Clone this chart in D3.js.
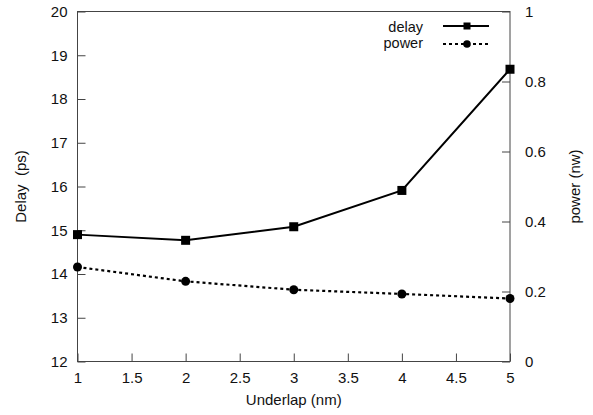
<!DOCTYPE html>
<html>
<head>
<meta charset="utf-8">
<script src="https://cdn.jsdelivr.net/npm/d3@7"></script>
<style>
  html, body { margin: 0; padding: 0; background: #fff; }
  svg { display: block; }
  text { font-family: "Liberation Sans", Arial, sans-serif; fill: #111; }
</style>
</head>
<body>
<svg id="chart" width="593" height="415"></svg>
<script>
// Underlap sweep: delay (left axis) and power (right axis)
const underlap = [1, 2, 3, 4, 5];
const delay = [14.90, 14.77, 15.08, 15.91, 18.68];
const power = [0.270, 0.229, 0.205, 0.193, 0.180];

const xTicks = [1, 1.5, 2, 2.5, 3, 3.5, 4, 4.5, 5];
const delayTicks = [12, 13, 14, 15, 16, 17, 18, 19, 20];
const powerTicks = [0, 0.2, 0.4, 0.6, 0.8, 1];

const margin = { left: 77.5, top: 11.5, right: 510, bottom: 361.5 };
const fontSize = 15;
const svg = d3.select("#chart");

const x = d3.scaleLinear().domain([1, 5]).range([margin.left, margin.right]);
const yL = d3.scaleLinear().domain([12, 20]).range([margin.bottom, margin.top]);
const yR = d3.scaleLinear().domain([0, 1]).range([margin.bottom, margin.top]);

const frameColor = "#444";
const tickLen = 8;

// plot frame
svg.append("rect")
  .attr("x", margin.left).attr("y", margin.top)
  .attr("width", margin.right - margin.left)
  .attr("height", margin.bottom - margin.top)
  .attr("fill", "none").attr("stroke", frameColor).attr("stroke-width", 1);

function styleAxis(g) {
  g.select(".domain").remove();
  g.selectAll(".tick line").attr("stroke", frameColor);
  g.selectAll(".tick text").attr("font-size", fontSize).attr("fill", "#111")
    .attr("font-family", "Liberation Sans, Arial, sans-serif");
}

// bottom axis, ticks pointing inward
svg.append("g")
  .attr("transform", `translate(0,${margin.bottom})`)
  .call(d3.axisBottom(x).tickValues(xTicks).tickSizeInner(-tickLen).tickSizeOuter(0)
    .tickPadding(11).tickFormat(d3.format("")))
  .call(styleAxis);

// left axis (delay)
svg.append("g")
  .attr("transform", `translate(${margin.left},0)`)
  .call(d3.axisLeft(yL).tickValues(delayTicks).tickSizeInner(-tickLen).tickSizeOuter(0)
    .tickPadding(10).tickFormat(d3.format("d")))
  .call(styleAxis);

// right axis (power)
svg.append("g")
  .attr("transform", `translate(${margin.right},0)`)
  .call(d3.axisRight(yR).tickValues(powerTicks).tickSizeInner(-tickLen).tickSizeOuter(0)
    .tickPadding(15).tickFormat(d => d === 0 || d === 1 ? String(d) : d3.format(".1f")(d)))
  .call(styleAxis);

// axis titles
svg.append("text")
  .attr("transform", `translate(26,${(margin.top + margin.bottom) / 2}) rotate(-90)`)
  .attr("text-anchor", "middle").attr("font-size", fontSize)
  .attr("xml:space", "preserve")
  .text("Delay  (ps)");

svg.append("text")
  .attr("transform", `translate(580,${(margin.top + margin.bottom) / 2}) rotate(-90)`)
  .attr("text-anchor", "middle").attr("font-size", fontSize)
  .text("power (nw)");

svg.append("text")
  .attr("x", (margin.left + margin.right) / 2).attr("y", 405)
  .attr("text-anchor", "middle").attr("font-size", fontSize)
  .text("Underlap (nm)");

// series
const delayLine = d3.line().x((d, i) => x(underlap[i])).y(d => yL(d));
const powerLine = d3.line().x((d, i) => x(underlap[i])).y(d => yR(d));

svg.append("path").datum(delay)
  .attr("d", delayLine).attr("fill", "none")
  .attr("stroke", "#000").attr("stroke-width", 2);

svg.append("path").datum(power)
  .attr("d", powerLine).attr("fill", "none")
  .attr("stroke", "#000").attr("stroke-width", 2.2)
  .attr("stroke-dasharray", "3,3");

const sq = 9;
svg.selectAll(".delay-pt").data(delay).enter().append("rect")
  .attr("x", (d, i) => x(underlap[i]) - sq / 2)
  .attr("y", d => yL(d) - sq / 2)
  .attr("width", sq).attr("height", sq).attr("fill", "#000");

svg.selectAll(".power-pt").data(power).enter().append("circle")
  .attr("cx", (d, i) => x(underlap[i]))
  .attr("cy", d => yR(d))
  .attr("r", 4.5).attr("fill", "#000");

// legend
const legend = svg.append("g");
const legendItems = [
  { label: "delay", y: 26, textY: 32, dash: null, shape: "square" },
  { label: "power", y: 44, textY: 47.5, dash: "3,3", shape: "circle" }
];
const legSq = 7;
legendItems.forEach(item => {
  legend.append("text")
    .attr("x", 423).attr("y", item.textY)
    .attr("text-anchor", "end").attr("font-size", 14.5)
    .text(item.label);
  legend.append("line")
    .attr("x1", 443).attr("x2", 489)
    .attr("y1", item.y).attr("y2", item.y)
    .attr("stroke", "#000").attr("stroke-width", 2)
    .attr("stroke-dasharray", item.dash);
  if (item.shape === "square") {
    legend.append("rect")
      .attr("x", 467 - legSq / 2).attr("y", item.y - legSq / 2)
      .attr("width", legSq).attr("height", legSq).attr("fill", "#000");
  } else {
    legend.append("circle")
      .attr("cx", 467).attr("cy", item.y).attr("r", 3.8).attr("fill", "#000");
  }
});
</script>
</body>
</html>
